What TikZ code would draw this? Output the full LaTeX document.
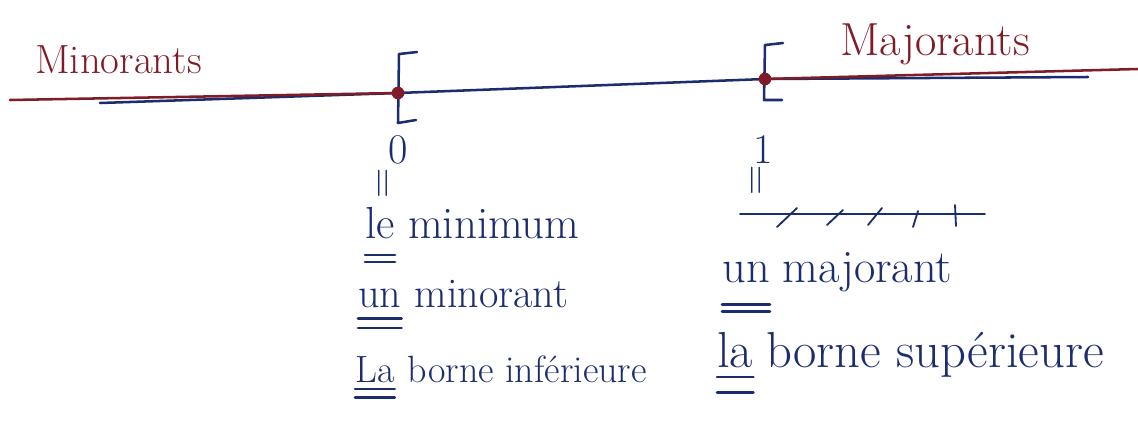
\documentclass[tikz,border=0pt]{standalone}
\usetikzlibrary{positioning}
\definecolor{inkblue}{RGB}{28, 45, 110}
\definecolor{inkred}{RGB}{128, 28, 40}
\newcommand{\fs}[1]{\fontsize{#1}{#1}\selectfont}
\tikzset{
  pen/.style={line width=1.8pt, line cap=round, line join=round},
  bluepen/.style={pen, draw=inkblue},
  redpen/.style={pen, draw=inkred},
  hand/.style={text=inkblue, inner sep=0pt, anchor=base west, font=\fs{28}},
  redhand/.style={hand, text=inkred},
  word/.style={hand, base right=9pt of #1},
  eqmark/.style={text=inkblue, inner sep=0pt, rotate=90, font=\fs{30}},
  endpt/.style={circle, fill=inkred, inner sep=0pt, minimum size=9pt},
}
\begin{document}
\begin{tikzpicture}[x=0.025cm, y=-0.025cm]
  \useasboundingbox (0,0) rectangle (1138,423);
  % the line
  \coordinate (zero) at (398,93);
  \coordinate (one) at (765,79);
  \coordinate (redL) at (10,100);
  \coordinate (redR) at (1138,69);
  \coordinate (blueL) at (100,103);
  \coordinate (blueR) at (1088,77);
  \draw[bluepen] (blueL) -- (zero) -- (one) -- (blueR);
  \draw[redpen] (redL) -- (zero); \draw[redpen] (one) -- (redR);
  \draw[bluepen] ([shift={(19,-41)}]zero) -- ([shift={(1,-39)}]zero) -- ([shift={(0,30)}]zero) -- ([shift={(18,27)}]zero);
  \draw[bluepen] ([shift={(18,-36)}]one) -- ([shift={(0,-34)}]one) -- ([shift={(-1,21)}]one) -- ([shift={(17,21)}]one);
  \node[endpt] (dot0) at (zero) {};
  \node[endpt] (dot1) at (one) {};
  \node[redhand, font=\fs{29}] (minos) at (35,73) {Minorants};
  \node[redhand, font=\fs{33}] (majos) at (840,55) {Majorants};
  % below 0
  \node[hand, anchor=center, font=\fs{30}] (lab0) at (398,150) {0};
  \node[eqmark] (eq0) at (386,183) {=};
  \node[hand, font=\fs{32}] (le) at (365,238) {le};
  \node[word=le, font=\fs{32}] (minimum) {minimum};
  \node[hand, font=\fs{30}] (unA) at (358,307) {un};
  \node[word=unA, font=\fs{30}] (minorant) {minorant};
  \node[hand, font=\fs{27}] (La) at (355,382) {La};
  \node[word=La, font=\fs{27}] (borneinf) {borne inférieure};
  \draw[bluepen] ([yshift=-12pt]le.base west) -- ([yshift=-12pt]le.base east); \draw[bluepen] ([yshift=-17pt]le.base west) -- ([yshift=-17pt]le.base east);
  \draw[bluepen] ([yshift=-8pt]unA.base west) -- ([yshift=-8pt]unA.base east); \draw[bluepen] ([yshift=-15pt]unA.base west) -- ([yshift=-15pt]unA.base east);
  \draw[bluepen] ([yshift=-5pt]La.base west) -- ([yshift=-5pt]La.base east); \draw[bluepen] ([yshift=-11pt]La.base west) -- ([yshift=-11pt]La.base east);
  % below 1
  \node[hand, anchor=center, font=\fs{30}] (lab1) at (763,150) {1};
  \node[eqmark] (eq1) at (759,180) {=};
  \coordinate (hatchL) at (740,214);
  \coordinate (hatchR) at (985,214);
  \draw[bluepen, line width=1.3pt] (hatchL) -- (hatchR);
  \draw[bluepen, line width=1.3pt] (777,227) -- (797,208) (827,225) -- (843,210) (868,225) -- (882,208) (913,227) -- (918,211) (956,226) -- (955,205);
  \node[hand, font=\fs{33}] (unB) at (722,282) {un};
  \node[word=unB, font=\fs{33}] (majorant) {majorant};
  \node[hand, font=\fs{36}] (la) at (717,367) {la};
  \node[word=la, font=\fs{36}] (bornesup) {borne supérieure};
  \draw[bluepen] ([yshift=-16pt]unB.base west) -- ([yshift=-16pt]unB.base east); \draw[bluepen] ([yshift=-21pt]unB.base west) -- ([yshift=-21pt]unB.base east);
  \draw[bluepen] ([yshift=-7pt]la.base west) -- ([yshift=-7pt]la.base east); \draw[bluepen] ([yshift=-18pt]la.base west) -- ([yshift=-18pt]la.base east);
\end{tikzpicture}
\end{document}
